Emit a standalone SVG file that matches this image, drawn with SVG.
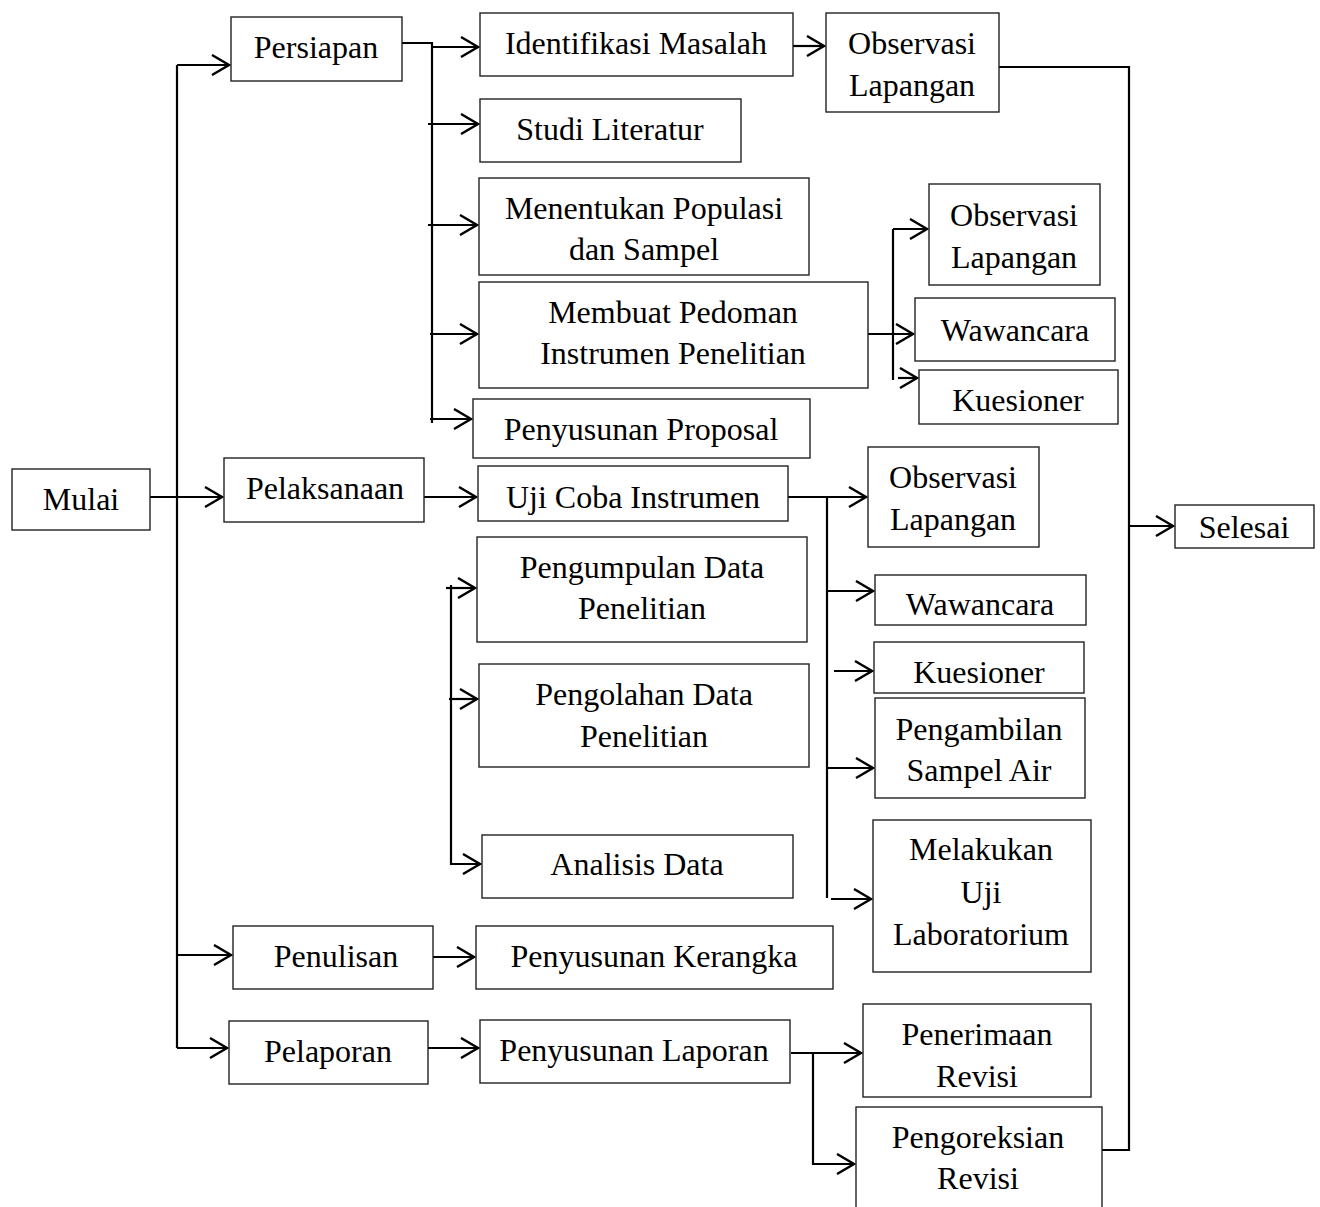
<svg xmlns="http://www.w3.org/2000/svg" width="1320" height="1207" viewBox="0 0 1320 1207">
<style>
.box rect{fill:#fff;stroke:#222;stroke-width:1.4}
text{font-family:"Liberation Serif","Times New Roman",serif;font-size:32px;fill:#000;text-anchor:middle}
.c path{fill:none;stroke:#000;stroke-width:2.2}
</style>
<defs>
<marker id="ah" viewBox="0 0 20 22" refX="18" refY="11" markerWidth="20" markerHeight="22" markerUnits="userSpaceOnUse" orient="auto">
<path d="M1,1 L18,11 L1,21" fill="none" stroke="#000" stroke-width="2.4"/>
</marker>
</defs>
<rect width="1320" height="1207" fill="#fff"/>
<g class="c">
<path d="M177,65 V1048"/>
<path d="M177,65 H229" marker-end="url(#ah)"/>
<path d="M148,497 H222" marker-end="url(#ah)"/>
<path d="M177,955 H231" marker-end="url(#ah)"/>
<path d="M177,1048 H227" marker-end="url(#ah)"/>
<path d="M402,43 H432 V423"/>
<path d="M432,47 H478" marker-end="url(#ah)"/>
<path d="M428,124 H478" marker-end="url(#ah)"/>
<path d="M428,225 H477" marker-end="url(#ah)"/>
<path d="M430,334 H477" marker-end="url(#ah)"/>
<path d="M430,419 H471" marker-end="url(#ah)"/>
<path d="M793,46 H824" marker-end="url(#ah)"/>
<path d="M999,67 H1129 V1150 H1102"/>
<path d="M1129,526 H1173" marker-end="url(#ah)"/>
<path d="M868,334 H913" marker-end="url(#ah)"/>
<path d="M893,229 V380"/>
<path d="M893,229 H927" marker-end="url(#ah)"/>
<path d="M898,378 H917" marker-end="url(#ah)"/>
<path d="M424,497 H476" marker-end="url(#ah)"/>
<path d="M788,497 H866" marker-end="url(#ah)"/>
<path d="M827,497 V898"/>
<path d="M826,591 H873" marker-end="url(#ah)"/>
<path d="M834,671 H872" marker-end="url(#ah)"/>
<path d="M826,768 H873" marker-end="url(#ah)"/>
<path d="M831,899 H871" marker-end="url(#ah)"/>
<path d="M451,585 V864 H480" marker-end="url(#ah)"/>
<path d="M446,588 H475" marker-end="url(#ah)"/>
<path d="M449,699 H477" marker-end="url(#ah)"/>
<path d="M433,957 H474" marker-end="url(#ah)"/>
<path d="M428,1048 H478" marker-end="url(#ah)"/>
<path d="M791,1053 H861" marker-end="url(#ah)"/>
<path d="M813,1053 V1164 H854" marker-end="url(#ah)"/>
</g>
<g id="mulai" class="box"><rect x="12" y="469" width="138" height="61"/><text x="81" y="510">Mulai</text></g>
<g id="persiapan" class="box"><rect x="231" y="17" width="171" height="64"/><text x="316" y="58">Persiapan</text></g>
<g id="pelaksanaan" class="box"><rect x="224" y="458" width="200" height="64"/><text x="325" y="499">Pelaksanaan</text></g>
<g id="penulisan" class="box"><rect x="233" y="926" width="200" height="63"/><text x="336" y="967">Penulisan</text></g>
<g id="pelaporan" class="box"><rect x="229" y="1021" width="199" height="63"/><text x="328" y="1062">Pelaporan</text></g>
<g id="identifikasi" class="box"><rect x="480" y="13" width="313" height="63"/><text x="636" y="54">Identifikasi Masalah</text></g>
<g id="obs1" class="box"><rect x="826" y="13" width="173" height="99"/><text x="912" y="54">Observasi</text><text x="912" y="96">Lapangan</text></g>
<g id="studi" class="box"><rect x="480" y="99" width="261" height="63"/><text x="610" y="140">Studi Literatur</text></g>
<g id="populasi" class="box"><rect x="479" y="178" width="330" height="97"/><text x="644" y="219">Menentukan Populasi</text><text x="644" y="260">dan Sampel</text></g>
<g id="pedoman" class="box"><rect x="479" y="282" width="389" height="106"/><text x="673" y="323">Membuat Pedoman</text><text x="673" y="364">Instrumen Penelitian</text></g>
<g id="obs2" class="box"><rect x="929" y="184" width="171" height="101"/><text x="1014" y="226">Observasi</text><text x="1014" y="268">Lapangan</text></g>
<g id="waw1" class="box"><rect x="915" y="298" width="200" height="63"/><text x="1015" y="341">Wawancara</text></g>
<g id="kues1" class="box"><rect x="919" y="370" width="199" height="54"/><text x="1018" y="411">Kuesioner</text></g>
<g id="proposal" class="box"><rect x="473" y="399" width="337" height="59"/><text x="641" y="440">Penyusunan Proposal</text></g>
<g id="ujicoba" class="box"><rect x="478" y="466" width="310" height="55"/><text x="633" y="508">Uji Coba Instrumen</text></g>
<g id="obs3" class="box"><rect x="868" y="447" width="171" height="100"/><text x="953" y="488">Observasi</text><text x="953" y="530">Lapangan</text></g>
<g id="selesai" class="box"><rect x="1175" y="505" width="139" height="43"/><text x="1244" y="538">Selesai</text></g>
<g id="pengumpulan" class="box"><rect x="477" y="537" width="330" height="105"/><text x="642" y="578">Pengumpulan Data</text><text x="642" y="619">Penelitian</text></g>
<g id="waw2" class="box"><rect x="875" y="575" width="211" height="50"/><text x="980" y="615">Wawancara</text></g>
<g id="kues2" class="box"><rect x="874" y="642" width="210" height="51"/><text x="979" y="683">Kuesioner</text></g>
<g id="pengolahan" class="box"><rect x="479" y="664" width="330" height="103"/><text x="644" y="705">Pengolahan Data</text><text x="644" y="747">Penelitian</text></g>
<g id="pengambilan" class="box"><rect x="875" y="698" width="210" height="100"/><text x="979" y="740">Pengambilan</text><text x="979" y="781">Sampel Air</text></g>
<g id="analisis" class="box"><rect x="482" y="835" width="311" height="63"/><text x="637" y="875">Analisis Data</text></g>
<g id="lab" class="box"><rect x="873" y="820" width="218" height="152"/><text x="981" y="860">Melakukan</text><text x="981" y="903">Uji</text><text x="981" y="945">Laboratorium</text></g>
<g id="kerangka" class="box"><rect x="476" y="926" width="357" height="63"/><text x="654" y="967">Penyusunan Kerangka</text></g>
<g id="laporan" class="box"><rect x="480" y="1020" width="310" height="63"/><text x="634" y="1061">Penyusunan Laporan</text></g>
<g id="penerimaan" class="box"><rect x="863" y="1004" width="228" height="93"/><text x="977" y="1045">Penerimaan</text><text x="977" y="1087">Revisi</text></g>
<g id="pengoreksian" class="box"><rect x="856" y="1107" width="246" height="120"/><text x="978" y="1148">Pengoreksian</text><text x="978" y="1189">Revisi</text></g>
</svg>
